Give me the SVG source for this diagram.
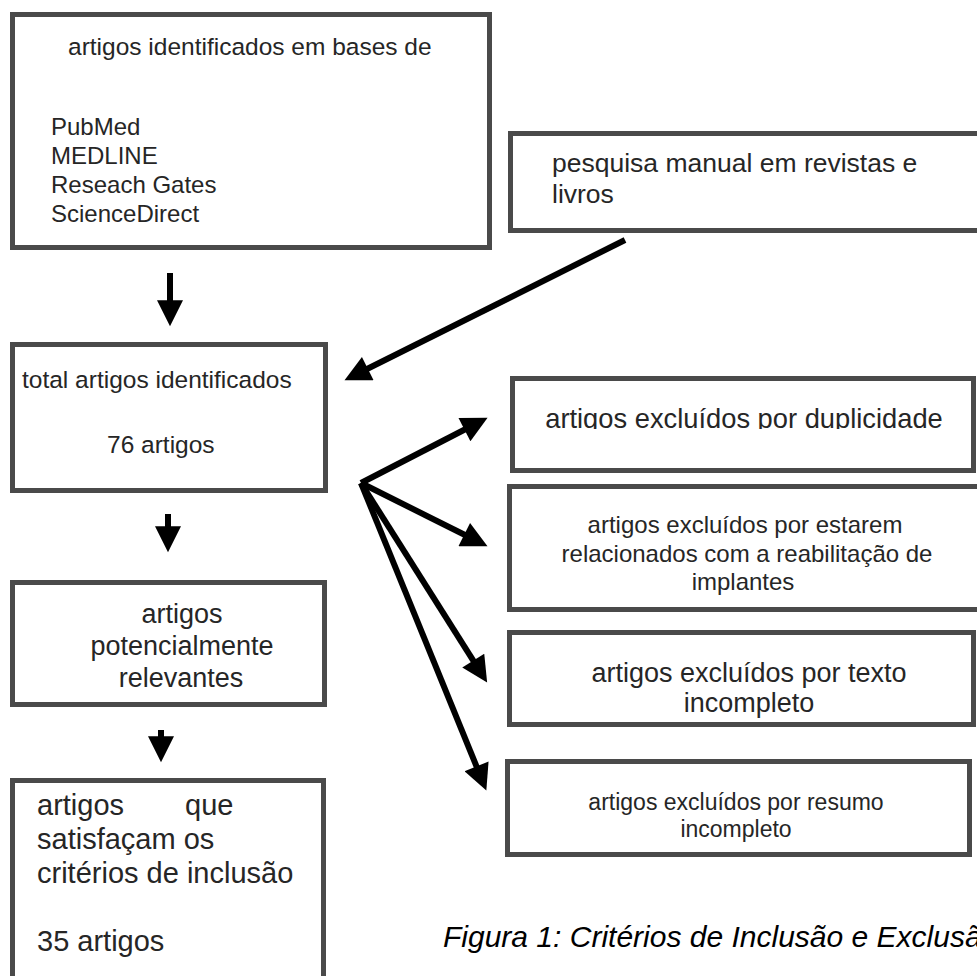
<svg xmlns="http://www.w3.org/2000/svg" width="977" height="976" viewBox="0 0 977 976">
<defs>
<style>
.box{fill:#fff;stroke:#4a4a4a;stroke-width:5}
.t{font-family:"Liberation Sans",Arial,Helvetica,sans-serif;fill:#262626}
.c{text-anchor:middle}
.conn{stroke:#000;stroke-width:6;fill:none;marker-end:url(#ah)}
</style>
<marker id="ah" viewBox="0 0 10 10" markerUnits="userSpaceOnUse" markerWidth="28" markerHeight="26" refX="1.4" refY="5" orient="auto">
<path d="M0,0 L10,5 L0,10 z" fill="#000"/>
</marker>
<clipPath id="clipdup"><rect x="510" y="376" width="467" height="53"/></clipPath>
</defs>
<rect width="977" height="976" fill="#fff"/>

<g id="bases">
<rect class="box" x="12.5" y="14.5" width="477" height="233"/>
<text class="t" x="68" y="55" font-size="24.5">artigos identificados em bases de</text>
<text class="t" x="51" y="135" font-size="24">PubMed</text>
<text class="t" x="51" y="164" font-size="24">MEDLINE</text>
<text class="t" x="51" y="193" font-size="24">Reseach Gates</text>
<text class="t" x="51" y="222" font-size="24">ScienceDirect</text>
</g>

<g id="manual">
<rect class="box" x="510.5" y="133.5" width="480" height="97"/>
<text class="t" x="552" y="172" font-size="26.5">pesquisa manual em revistas e</text>
<text class="t" x="552" y="203" font-size="26.5">livros</text>
</g>

<g id="total">
<rect class="box" x="12.5" y="344.5" width="313" height="146"/>
<text class="t" x="22" y="388" font-size="24.5">total artigos identificados</text>
<text class="t" x="107" y="453" font-size="24.5">76 artigos</text>
</g>

<g id="potenciais">
<rect class="box" x="12.5" y="582.5" width="312" height="122"/>
<text class="t c" x="182" y="623" font-size="27">artigos</text>
<text class="t c" x="182" y="655" font-size="27">potencialmente</text>
<text class="t c" x="181" y="687" font-size="27">relevantes</text>
</g>

<g id="incluidos">
<rect class="box" x="12.5" y="780.5" width="311" height="220"/>
<text class="t" x="37" y="815" font-size="29">artigos</text>
<text class="t" x="185" y="815" font-size="29">que</text>
<text class="t" x="37" y="849" font-size="29">satisfaçam os</text>
<text class="t" x="37" y="883" font-size="29">critérios de inclusão</text>
<text class="t" x="37" y="951" font-size="29">35 artigos</text>
</g>

<g id="duplicidade">
<rect class="box" x="512.5" y="378.5" width="461" height="92"/>
<text class="t c" x="744" y="428" font-size="27.3" clip-path="url(#clipdup)">artigos excluídos por duplicidade</text>
</g>

<g id="implantes">
<rect class="box" x="509.5" y="486.5" width="480" height="123"/>
<text class="t c" x="745" y="533" font-size="24">artigos excluídos por estarem</text>
<text class="t c" x="747" y="562" font-size="24">relacionados com a reabilitação de</text>
<text class="t c" x="743" y="590" font-size="24">implantes</text>
</g>

<g id="texto">
<rect class="box" x="509.5" y="632.5" width="464" height="92"/>
<text class="t c" x="749" y="682" font-size="27">artigos excluídos por texto</text>
<text class="t c" x="749" y="712" font-size="27">incompleto</text>
</g>

<g id="resumo">
<rect class="box" x="507.5" y="761.5" width="462" height="93"/>
<text class="t c" x="736" y="810" font-size="23">artigos excluídos por resumo</text>
<text class="t c" x="736" y="837" font-size="23">incompleto</text>
</g>

<g id="connectors">
<line class="conn" x1="170" y1="273" x2="170" y2="304"/>
<line class="conn" x1="625" y1="240" x2="364.5" y2="370.3"/>
<line class="conn" x1="168" y1="514" x2="168" y2="530"/>
<line class="conn" x1="161" y1="730" x2="161" y2="740"/>
<line class="conn" x1="361" y1="483" x2="467.7" y2="428"/>
<line class="conn" x1="361" y1="483" x2="467.5" y2="536.3"/>
<line class="conn" x1="361" y1="483" x2="475.2" y2="663.7"/>
<line class="conn" x1="361" y1="483" x2="477.9" y2="769.8"/>
</g>

<text class="t" x="443" y="947" font-size="30" font-style="italic" fill="#000" style="fill:#000">Figura 1: Critérios de Inclusão e Exclusão</text>
</svg>
